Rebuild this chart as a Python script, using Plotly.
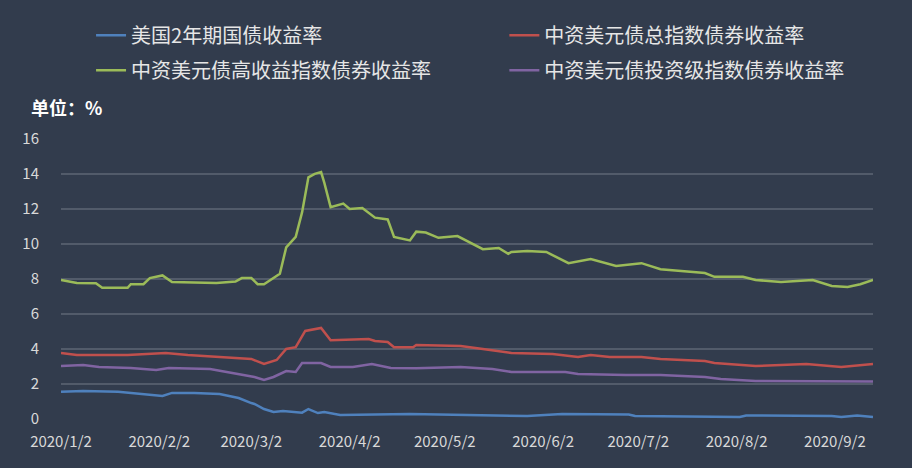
import plotly.graph_objects as go

# 美国2年期国债收益率
us2y_dates = ["2020-01-02", "2020-01-09", "2020-01-20", "2020-01-30", "2020-02-03", "2020-02-06",
              "2020-02-13", "2020-02-21", "2020-02-27", "2020-03-02", "2020-03-03", "2020-03-06",
              "2020-03-09", "2020-03-12", "2020-03-18", "2020-03-20", "2020-03-23", "2020-03-25",
              "2020-03-30", "2020-04-21", "2020-05-28", "2020-06-08", "2020-06-29", "2020-07-01",
              "2020-08-03", "2020-08-05", "2020-09-01", "2020-09-04", "2020-09-09", "2020-09-14"]
us2y_vals = [1.56, 1.60, 1.56, 1.37, 1.31, 1.49,
             1.49, 1.43, 1.20, 0.91, 0.86, 0.57,
             0.40, 0.45, 0.36, 0.57, 0.34, 0.40,
             0.23, 0.29, 0.17, 0.29, 0.26, 0.17,
             0.11, 0.20, 0.17, 0.11, 0.20, 0.12]

# 中资美元债总指数债券收益率
total_dates = ["2020-01-02", "2020-01-07", "2020-01-23", "2020-02-04", "2020-02-11", "2020-02-20",
               "2020-03-02", "2020-03-06", "2020-03-10", "2020-03-13", "2020-03-16", "2020-03-19",
               "2020-03-24", "2020-03-27", "2020-04-08", "2020-04-10", "2020-04-14", "2020-04-16",
               "2020-04-22", "2020-04-23", "2020-05-07", "2020-05-14", "2020-05-23", "2020-06-05",
               "2020-06-13", "2020-06-17", "2020-06-23", "2020-07-03", "2020-07-09", "2020-07-23",
               "2020-07-26", "2020-08-08", "2020-08-24", "2020-09-04", "2020-09-14"]
total_vals = [3.77, 3.66, 3.66, 3.77, 3.66, 3.56,
              3.43, 3.14, 3.37, 4.00, 4.10, 5.03,
              5.20, 4.50, 4.57, 4.46, 4.40, 4.10,
              4.10, 4.23, 4.17, 4.00, 3.77, 3.71,
              3.54, 3.66, 3.54, 3.54, 3.43, 3.31,
              3.20, 3.03, 3.14, 2.97, 3.14]

# 中资美元债高收益指数债券收益率
hy_dates = ["2020-01-02", "2020-01-07", "2020-01-13", "2020-01-15", "2020-01-23", "2020-01-24",
            "2020-01-28", "2020-01-30", "2020-02-03", "2020-02-06", "2020-02-20", "2020-02-26",
            "2020-02-28", "2020-03-02", "2020-03-04", "2020-03-06", "2020-03-11", "2020-03-13",
            "2020-03-16", "2020-03-18", "2020-03-20", "2020-03-22", "2020-03-24", "2020-03-25",
            "2020-03-27", "2020-03-31", "2020-04-02", "2020-04-06", "2020-04-10", "2020-04-14",
            "2020-04-16", "2020-04-21", "2020-04-23", "2020-04-26", "2020-04-30", "2020-05-06",
            "2020-05-14", "2020-05-19", "2020-05-22", "2020-05-23", "2020-05-28", "2020-06-03",
            "2020-06-10", "2020-06-17", "2020-06-25", "2020-07-03", "2020-07-09", "2020-07-15",
            "2020-07-23", "2020-07-26", "2020-08-04", "2020-08-08", "2020-08-16", "2020-08-26",
            "2020-09-01", "2020-09-06", "2020-09-10", "2020-09-14"]
hy_vals = [7.94, 7.77, 7.75, 7.49, 7.49, 7.70,
           7.70, 8.05, 8.20, 7.83, 7.77, 7.85,
           8.05, 8.05, 7.70, 7.70, 8.30, 9.80,
           10.40, 11.80, 13.80, 14.00, 14.10, 13.50,
           12.10, 12.30, 12.00, 12.05, 11.50, 11.40,
           10.40, 10.20, 10.70, 10.65, 10.35, 10.45,
           9.70, 9.77, 9.43, 9.54, 9.60, 9.54,
           8.90, 9.14, 8.74, 8.90, 8.55, 8.45,
           8.34, 8.12, 8.12, 7.94, 7.83, 7.94,
           7.60, 7.54, 7.70, 7.94]

# 中资美元债投资级指数债券收益率
ig_dates = ["2020-01-02", "2020-01-09", "2020-01-14", "2020-01-24", "2020-02-01", "2020-02-05",
            "2020-02-18", "2020-02-25", "2020-03-03", "2020-03-06", "2020-03-09", "2020-03-13",
            "2020-03-16", "2020-03-18", "2020-03-24", "2020-03-27", "2020-04-03", "2020-04-09",
            "2020-04-15", "2020-04-23", "2020-05-07", "2020-05-17", "2020-05-23", "2020-06-09",
            "2020-06-13", "2020-06-28", "2020-07-09", "2020-07-23", "2020-07-28", "2020-08-08",
            "2020-09-14"]
ig_vals = [3.03, 3.08, 2.97, 2.91, 2.80, 2.91,
           2.86, 2.63, 2.40, 2.23, 2.40, 2.74,
           2.69, 3.20, 3.20, 2.97, 2.97, 3.14,
           2.91, 2.90, 2.97, 2.86, 2.69, 2.69,
           2.57, 2.51, 2.51, 2.40, 2.29, 2.17,
           2.14]

tick_dates = ["2020-01-02", "2020-02-02", "2020-03-02", "2020-04-02", "2020-05-02",
              "2020-06-02", "2020-07-02", "2020-08-02", "2020-09-02"]
tick_labels = ["2020/1/2", "2020/2/2", "2020/3/2", "2020/4/2", "2020/5/2",
               "2020/6/2", "2020/7/2", "2020/8/2", "2020/9/2"]

# name, dates, values, colour, which legend column
series = [
    ("美国2年期国债收益率", us2y_dates, us2y_vals, "#4f81bd", "legend"),
    ("中资美元债总指数债券收益率", total_dates, total_vals, "#c0504d", "legend2"),
    ("中资美元债高收益指数债券收益率", hy_dates, hy_vals, "#9bbb59", "legend"),
    ("中资美元债投资级指数债券收益率", ig_dates, ig_vals, "#8064a2", "legend2"),
]

fig = go.Figure()
for name, xs, ys, color, leg in series:
    fig.add_trace(go.Scatter(x=xs, y=ys, name=name, mode="lines", legend=leg,
                             legendgroup=name,
                             line=dict(color=color, width=2.5)))

bg = "#323c4d"
legend_style = dict(
    orientation="v",
    y=1.435, yanchor="top", xanchor="left",
    tracegroupgap=6,
    font=dict(size=20, color="#e6e6e6"),
    bgcolor="rgba(0,0,0,0)",
)
fig.update_layout(
    width=912,
    height=468,
    paper_bgcolor=bg,
    plot_bgcolor=bg,
    margin=dict(l=61, r=39, t=138, b=49, autoexpand=False),
    font=dict(family="Noto Sans CJK SC", color="#e3e3e3"),
    showlegend=True,
    legend=dict(x=0.037, **legend_style),
    legend2=dict(x=0.546, **legend_style),
    annotations=[dict(
        text="<b>单位：%</b>", xref="paper", yref="paper",
        x=-0.04, y=1.11, xanchor="left", yanchor="middle",
        showarrow=False, font=dict(size=18, color="#ffffff"),
    )],
)

fig.update_xaxes(
    type="date",
    range=["2020-01-02", "2020-09-14"],
    tickvals=tick_dates,
    ticktext=tick_labels,
    showgrid=False,
    zeroline=False,
    showline=False,
    tickfont=dict(size=15, color="#d9d9d9"),
    ticklabelstandoff=12,
)
fig.update_yaxes(
    range=[0, 16.05],
    tickvals=[0, 2, 4, 6, 8, 10, 12, 14, 16],
    showgrid=True,
    gridcolor="#525b6a",
    gridwidth=1.5,
    zeroline=False,
    showline=False,
    tickfont=dict(size=15, color="#d9d9d9"),
    ticklabelstandoff=21,
)

fig.write_html("out.html", config={"displayModeBar": False},
               post_script="document.body.style.margin='0';")
